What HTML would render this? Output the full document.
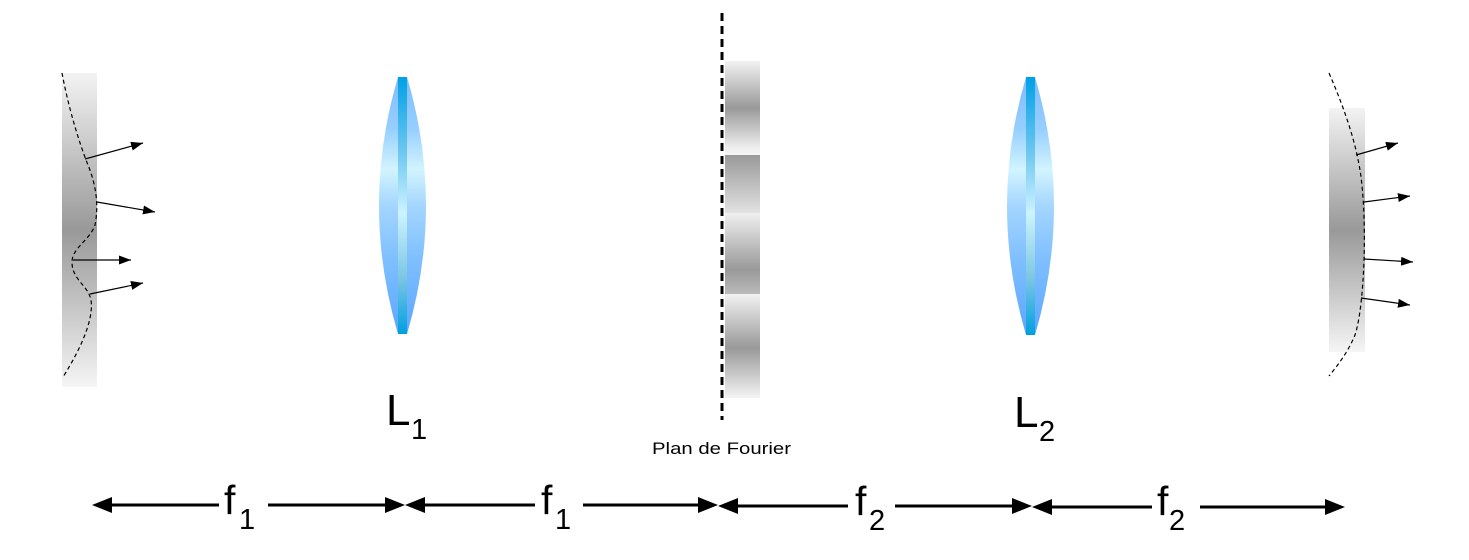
<!DOCTYPE html>
<html>
<head>
<meta charset="utf-8">
<style>
html,body{margin:0;padding:0;background:#fff;}
svg{display:block;}
text{font-family:"Liberation Sans",Arial,sans-serif;fill:#000;}
</style>
</head>
<body>
<svg width="1469" height="560" viewBox="0 0 1469 560" xmlns="http://www.w3.org/2000/svg">
<defs>
  <linearGradient id="wave" x1="0" y1="0" x2="0" y2="1">
    <stop offset="0" stop-color="#f3f3f3"/>
    <stop offset="0.5" stop-color="#999"/>
    <stop offset="1" stop-color="#f5f5f5"/>
  </linearGradient>
  <linearGradient id="fs1" x1="0" y1="0" x2="0" y2="1">
    <stop offset="0" stop-color="#f2f2f2"/>
    <stop offset="0.5" stop-color="#999"/>
    <stop offset="0.92" stop-color="#eee"/>
    <stop offset="1" stop-color="#f4f4f4"/>
  </linearGradient>
  <linearGradient id="fs2" x1="0" y1="0" x2="0" y2="1">
    <stop offset="0" stop-color="#999"/>
    <stop offset="1" stop-color="#e2e2e2"/>
  </linearGradient>
  <linearGradient id="fs3" x1="0" y1="0" x2="0" y2="1">
    <stop offset="0" stop-color="#f0f0f0"/>
    <stop offset="0.7" stop-color="#999"/>
    <stop offset="1" stop-color="#bbb"/>
  </linearGradient>
  <linearGradient id="fs4" x1="0" y1="0" x2="0" y2="1">
    <stop offset="0" stop-color="#f2f2f2"/>
    <stop offset="0.52" stop-color="#999"/>
    <stop offset="1" stop-color="#f4f4f4"/>
  </linearGradient>
  <linearGradient id="lensg" x1="0" y1="0" x2="0" y2="1">
    <stop offset="0" stop-color="#7fbcff"/>
    <stop offset="0.2" stop-color="#96ceff"/>
    <stop offset="0.36" stop-color="#d2f4ff"/>
    <stop offset="0.5" stop-color="#a4d6ff"/>
    <stop offset="0.7" stop-color="#80c0ff"/>
    <stop offset="1" stop-color="#5aa6ff"/>
  </linearGradient>
  <linearGradient id="stripg" x1="0" y1="0" x2="0" y2="1">
    <stop offset="0" stop-color="#00a0e6"/>
    <stop offset="0.3" stop-color="#70c8f0"/>
    <stop offset="0.53" stop-color="#ccf3ff"/>
    <stop offset="0.78" stop-color="#7cc6e4"/>
    <stop offset="1" stop-color="#009fe0"/>
  </linearGradient>
  <marker id="ah" markerUnits="userSpaceOnUse" markerWidth="13" markerHeight="10" refX="12" refY="4.5" orient="auto">
    <path d="M0,0 L12,4.5 L0,9 z" fill="#000"/>
  </marker>
</defs>

<!-- Left wavefront -->
<rect x="62" y="73" width="35" height="314" fill="url(#wave)"/>
<path d="M62,73 C68,105 78,140 88,165 C96,185 99,205 95,225 C90,240 72,248 72,262 C72,280 88,285 91,300 C94,320 80,350 63,377" fill="none" stroke="#000" stroke-width="1.2" stroke-dasharray="4 3"/>
<g stroke="#000" stroke-width="1.2" fill="none">
  <line x1="85" y1="159" x2="143" y2="143" marker-end="url(#ah)"/>
  <line x1="97" y1="202" x2="155" y2="212" marker-end="url(#ah)"/>
  <line x1="73" y1="260" x2="131" y2="260" marker-end="url(#ah)"/>
  <line x1="90" y1="294" x2="143" y2="283" marker-end="url(#ah)"/>
</g>

<!-- Lens L1 -->
<path d="M398,77 L407,77 Q445,205.5 407,334 L398,334 Q360,205.5 398,77 Z" fill="url(#lensg)"/>
<rect x="398" y="77" width="9" height="257" fill="url(#stripg)"/>
<text x="386" y="425" font-size="44">L</text>
<text x="411" y="439" font-size="29">1</text>

<!-- Fourier plane -->
<rect x="725" y="61" width="35" height="94" fill="url(#fs1)"/>
<rect x="725" y="155" width="35" height="58" fill="url(#fs2)"/>
<rect x="725" y="213" width="35" height="81" fill="url(#fs3)"/>
<rect x="725" y="294" width="35" height="104" fill="url(#fs4)"/>
<line x1="722" y1="13" x2="722" y2="420" stroke="#000" stroke-width="3" stroke-dasharray="8 5"/>
<text x="652" y="454" font-size="17" textLength="139" lengthAdjust="spacingAndGlyphs">Plan de Fourier</text>

<!-- Lens L2 -->
<path d="M1026,77 L1035,77 Q1073,206 1035,335 L1026,335 Q988,206 1026,77 Z" fill="url(#lensg)"/>
<rect x="1026" y="77" width="9" height="258" fill="url(#stripg)"/>
<text x="1014" y="427" font-size="44">L</text>
<text x="1039" y="441" font-size="29">2</text>

<!-- Right wavefront -->
<rect x="1329" y="108" width="36" height="244" fill="url(#wave)"/>
<path d="M1329,73 C1345,110 1355,140 1360,170 C1364,195 1365,230 1364,260 C1363,290 1360,320 1355,335 C1348,352 1338,365 1329,376" fill="none" stroke="#000" stroke-width="1.2" stroke-dasharray="4 3"/>
<g stroke="#000" stroke-width="1.2" fill="none">
  <line x1="1356" y1="155" x2="1398" y2="143" marker-end="url(#ah)"/>
  <line x1="1364" y1="202" x2="1410" y2="196" marker-end="url(#ah)"/>
  <line x1="1364" y1="259" x2="1413" y2="262" marker-end="url(#ah)"/>
  <line x1="1361" y1="298" x2="1410" y2="305" marker-end="url(#ah)"/>
</g>

<!-- Bottom dimension arrows -->
<g stroke="#000" stroke-width="3">
  <line x1="108" y1="505" x2="219" y2="505"/>
  <line x1="268" y1="505" x2="389" y2="505"/>
  <line x1="421" y1="505" x2="535" y2="505"/>
  <line x1="583" y1="505" x2="702" y2="505"/>
  <line x1="734" y1="506" x2="848" y2="506"/>
  <line x1="895" y1="506" x2="1016" y2="506"/>
  <line x1="1048" y1="507" x2="1152" y2="507"/>
  <line x1="1200" y1="507" x2="1329" y2="507"/>
</g>
<g fill="#000">
  <polygon points="92,505 112,497 112,513"/>
  <polygon points="405,505 385,497 385,513"/>
  <polygon points="405,505 425,497 425,513"/>
  <polygon points="718,505 698,497 698,513"/>
  <polygon points="718,506 738,498 738,514"/>
  <polygon points="1032,506 1012,498 1012,514"/>
  <polygon points="1032,507 1052,499 1052,515"/>
  <polygon points="1345,507 1325,499 1325,515"/>
</g>
<text x="224" y="514" font-size="41">f</text>
<text x="239" y="529" font-size="29">1</text>
<text x="541" y="514" font-size="41">f</text>
<text x="555" y="529" font-size="29">1</text>
<text x="855" y="515" font-size="41">f</text>
<text x="869" y="530" font-size="29">2</text>
<text x="1157" y="515" font-size="41">f</text>
<text x="1169" y="530" font-size="29">2</text>
</svg>
</body>
</html>
